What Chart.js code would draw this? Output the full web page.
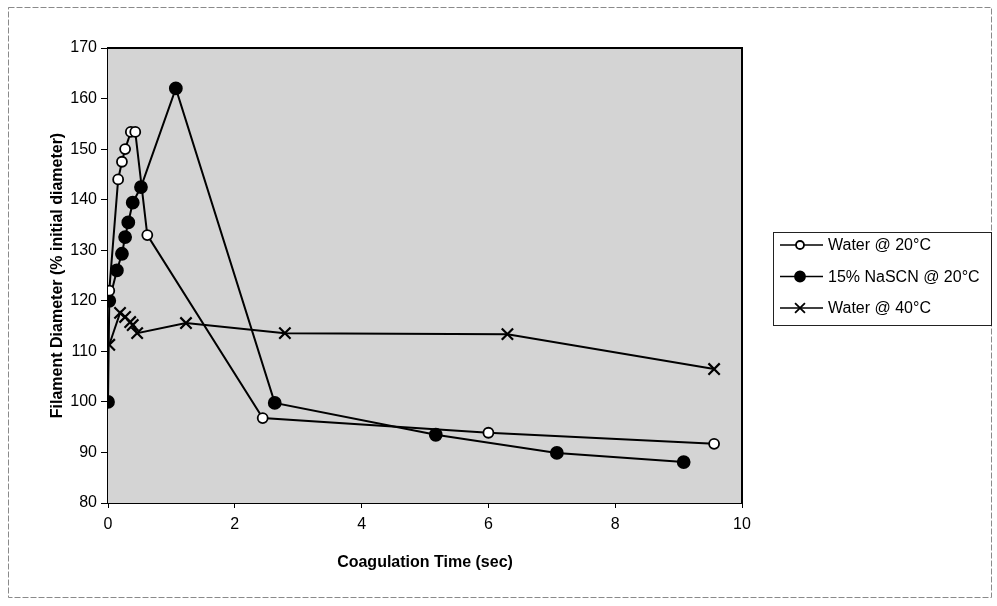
<!DOCTYPE html>
<html>
<head>
<meta charset="utf-8">
<script src="https://cdn.jsdelivr.net/npm/chart.js@4.4.3/dist/chart.umd.min.js"></script>
<style>
  html, body { margin: 0; padding: 0; background: #fff; }
  #wrap { width: 997px; height: 606px; }
</style>
</head>
<body>
<div id="wrap"><canvas id="chart" width="997" height="606"></canvas></div>
<script>
// Coagulation time (sec) vs filament diameter (% initial)
const water20Time = [0.02, 0.16, 0.22, 0.27, 0.36, 0.43, 0.62, 2.44, 6.0, 9.56];
const water20Diam = [122, 144, 147.5, 150, 153.4, 153.4, 133, 96.8, 93.9, 91.7];

const nascnTime = [0, 0.02, 0.14, 0.22, 0.27, 0.32, 0.39, 0.52, 1.07, 2.63, 5.17, 7.08, 9.08];
const nascnDiam = [100, 120, 126, 129.3, 132.6, 135.5, 139.4, 142.5, 162, 99.8, 93.5, 89.9, 88.1];

const water40Time = [0.02, 0.19, 0.27, 0.35, 0.39, 0.46, 1.23, 2.79, 6.3, 9.56];
const water40Diam = [111.3, 117.6, 116.8, 115.8, 115.2, 113.6, 115.6, 113.6, 113.4, 106.5];

const seriesLabels = ["Water @ 20°C", "15% NaSCN @ 20°C", "Water @ 40°C"];

const toPoints = (xs, ys) => xs.map((x, i) => ({ x, y: ys[i] }));

const FONT = "'Liberation Sans', Arial, sans-serif";

// gray plot background, frame, outer border
const framePlugin = {
    id: "frame",
    beforeDatasetsDraw(chart) {
        const { ctx, chartArea: a } = chart;
        ctx.save();
        ctx.fillStyle = "#d4d4d4";
        ctx.fillRect(a.left, a.top, a.right - a.left, a.bottom - a.top);
        ctx.restore();
    },
    afterDraw(chart) {
        const { ctx, chartArea: a } = chart;
        ctx.save();
        ctx.strokeStyle = "#000";
        ctx.lineWidth = 2;
        ctx.beginPath();
        ctx.moveTo(a.left, a.top);
        ctx.lineTo(a.right, a.top);
        ctx.lineTo(a.right, a.bottom);
        ctx.stroke();

        // outer chart border
        ctx.strokeStyle = "#8a8a8a";
        ctx.lineWidth = 1;
        ctx.setLineDash([6, 2]);
        ctx.strokeRect(8.5, 7.5, 983, 590);
        ctx.restore();
    }
};

// legend drawn like the original: line through marker
const legendPlugin = {
    id: "boxLegend",
    afterDraw(chart) {
        const ctx = chart.ctx;
        const box = { x: 773.5, y: 232.5, w: 218, h: 93 };
        ctx.save();
        ctx.fillStyle = "#fff";
        ctx.fillRect(box.x, box.y, box.w, box.h);
        ctx.strokeStyle = "#222";
        ctx.lineWidth = 1;
        ctx.strokeRect(box.x, box.y, box.w, box.h);

        chart.data.datasets.forEach((ds, i) => {
            const y = 245 + i * 31.5;
            ctx.strokeStyle = "#000";
            ctx.lineWidth = 1.5;
            ctx.beginPath();
            ctx.moveTo(780, y);
            ctx.lineTo(823, y);
            ctx.stroke();
            ctx.fillStyle = ds.pointBackgroundColor;
            ctx.strokeStyle = "#000";
            ctx.lineWidth = 1.8;
            Chart.helpers.drawPoint(ctx, {
                pointStyle: ds.pointStyle,
                radius: ds.pointRadius - 1,
                borderWidth: 1.8
            }, 800, y);
            ctx.fillStyle = "#000";
            ctx.font = "16px " + FONT;
            ctx.textBaseline = "middle";
            ctx.fillText(ds.label, 828, y + 1);
        });
        ctx.restore();
    }
};

const lineStyle = {
    showLine: true,
    borderColor: "#000",
    borderWidth: 2,
    pointBorderColor: "#000",
    pointBorderWidth: 1.8,
    tension: 0
};

new Chart(document.getElementById("chart"), {
    type: "scatter",
    data: {
        datasets: [
            {
                ...lineStyle,
                label: seriesLabels[0],
                data: toPoints(water20Time, water20Diam),
                pointStyle: "circle",
                pointRadius: 5,
                pointBackgroundColor: "#fff"
            },
            {
                ...lineStyle,
                label: seriesLabels[1],
                data: toPoints(nascnTime, nascnDiam),
                pointStyle: "circle",
                pointRadius: 6,
                pointBackgroundColor: "#000"
            },
            {
                ...lineStyle,
                label: seriesLabels[2],
                data: toPoints(water40Time, water40Diam),
                pointStyle: "crossRot",
                pointRadius: 8,
                pointBorderWidth: 2.2,
                pointBackgroundColor: "#000"
            }
        ]
    },
    options: {
        responsive: false,
        animation: false,
        layout: { padding: { left: 0, right: 255, top: 48, bottom: 0 } },
        plugins: {
            legend: { display: false },
            tooltip: { enabled: false }
        },
        scales: {
            x: {
                type: "linear",
                min: 0,
                max: 10,
                ticks: {
                    stepSize: 2,
                    color: "#000",
                    padding: 7,
                    font: { size: 16, family: FONT }
                },
                grid: { drawOnChartArea: false, tickLength: 5, color: "#000" },
                border: { color: "#000", width: 2 },
                title: {
                    display: true,
                    text: "Coagulation Time (sec)",
                    color: "#000",
                    padding: { top: 0, bottom: 34 },
                    font: { size: 16, weight: "bold", family: FONT }
                },
                afterFit(scale) { scale.height = 103; }
            },
            y: {
                min: 80,
                max: 170,
                ticks: {
                    stepSize: 10,
                    color: "#000",
                    padding: 4,
                    font: { size: 16, family: FONT }
                },
                grid: { drawOnChartArea: false, tickLength: 7, color: "#000" },
                border: { color: "#000", width: 2 },
                title: {
                    display: true,
                    text: "Filament Diameter (% initial diameter)",
                    color: "#000",
                    padding: { top: 48 },
                    font: { size: 16, weight: "bold", family: FONT }
                },
                afterFit(scale) { scale.width = 108; }
            }
        }
    },
    plugins: [framePlugin, legendPlugin]
});
</script>
</body>
</html>
